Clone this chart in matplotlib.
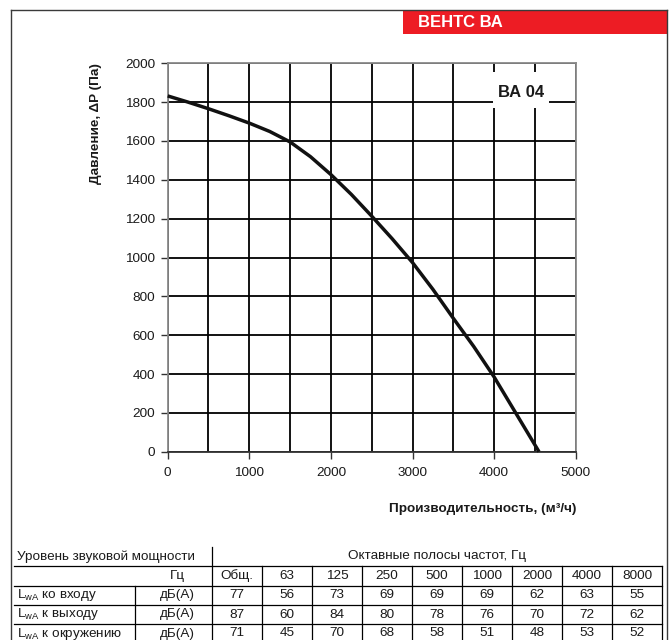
import matplotlib
matplotlib.use("Agg")
import matplotlib.pyplot as plt
from matplotlib.patches import Rectangle
from matplotlib.lines import Line2D

plt.rcParams['font.family'] = ['Liberation Sans', 'DejaVu Sans']
plt.rcParams['mathtext.fontset'] = 'custom'
plt.rcParams['mathtext.rm'] = 'Liberation Sans'
plt.rcParams['mathtext.it'] = 'Liberation Sans'
plt.rcParams['mathtext.default'] = 'rm'

# ---- data ----
flow = [0, 250, 500, 750, 1000, 1250, 1500, 1750, 2000, 2250, 2500, 2750,
        3000, 3250, 3500, 3750, 4000, 4250, 4550]
pressure = [1832, 1800, 1766, 1730, 1692, 1649, 1595, 1519, 1427, 1325, 1213, 1097,
            974, 836, 687, 542, 385, 210, 0]

x_ticks = [0, 1000, 2000, 3000, 4000, 5000]
y_ticks = [0, 200, 400, 600, 800, 1000, 1200, 1400, 1600, 1800, 2000]

bands = ['Общ.', '63', '125', '250', '500', '1000', '2000', '4000', '8000']
row_labels = [r'L$_{\mathrm{wA}}$ ко входу', r'L$_{\mathrm{wA}}$ к выходу',
              r'L$_{\mathrm{wA}}$ к окружению']
inlet = [77, 56, 73, 69, 69, 69, 62, 63, 55]
outlet = [87, 60, 84, 80, 78, 76, 70, 72, 62]
surround = [71, 45, 70, 68, 58, 51, 48, 53, 52]
rows = [inlet, outlet, surround]

W, H = 669, 640
fig = plt.figure(figsize=(W / 100, H / 100), dpi=100)

# background layer in pixel coordinates
bg = fig.add_axes([0, 0, 1, 1])
bg.set_xlim(0, W)
bg.set_ylim(H, 0)
bg.axis('off')

frame_c = '#3a3a3a'
bg.add_line(Line2D([10.5, 10.5], [10, H], color=frame_c, lw=1.0))
bg.add_line(Line2D([10.5, 667], [10, 10], color=frame_c, lw=1.0))
bg.add_line(Line2D([667, 667], [10, H], color=frame_c, lw=1.0))
bg.add_patch(Rectangle((403, 10), 264, 23.7, color='#ED1C24', lw=0))
bg.text(418, 22.5, 'ВЕНТС ВА', color='white', fontsize=12, fontweight='bold',
        ha='left', va='center')

# ---- table ----
tl = 'black'
lw = 0.9
row_lines = [566, 585.7, 605, 624, 643]
for y in row_lines:
    bg.add_line(Line2D([14, 662], [y, y], color=tl, lw=lw))
bg.add_line(Line2D([212, 212], [546.7, H], color=tl, lw=lw))
bg.add_line(Line2D([135, 135], [585.7, H], color=tl, lw=lw))
col_edges = [212 + 50 * i for i in range(len(bands) + 1)]
for x in col_edges[1:]:
    bg.add_line(Line2D([x, x], [566, H], color=tl, lw=lw))

fs_t = 9.7
tc = '#1a1a1a'
bg.text(17, 556.5, 'Уровень звуковой мощности', fontsize=fs_t, color=tc, ha='left', va='center')
bg.text((212 + 662) / 2, 556.5, 'Октавные полосы частот, Гц', fontsize=fs_t, color=tc,
        ha='center', va='center')
bg.text(177, 576, 'Гц', fontsize=fs_t, color=tc, ha='center', va='center')
for i, b in enumerate(bands):
    bg.text((col_edges[i] + col_edges[i + 1]) / 2, 576, b, fontsize=fs_t, color=tc,
            ha='center', va='center')
row_centers = [595.3, 614.5, 633.5]
for r, (lab, vals) in enumerate(zip(row_labels, rows)):
    yc = row_centers[r]
    bg.text(17, yc, lab, fontsize=fs_t, color=tc, ha='left', va='center')
    bg.text(177, yc, 'дБ(А)', fontsize=fs_t, color=tc, ha='center', va='center')
    for i, v in enumerate(vals):
        bg.text((col_edges[i] + col_edges[i + 1]) / 2, yc, str(v), fontsize=fs_t, color=tc,
                ha='center', va='center')

# ---- chart ----
x0, x1, y0, y1 = 167.7, 575.7, 63.3, 451.7
ax = fig.add_axes([x0 / W, 1 - y1 / H, (x1 - x0) / W, (y1 - y0) / H])
ax.set_xlim(0, 5000)
ax.set_ylim(0, 2000)
ax.set_xticks(x_ticks)
ax.set_yticks(y_ticks)
ax.set_xticks([500, 1500, 2500, 3500, 4500], minor=True)
ax.grid(True, which='both', color='black', lw=1.3)
ax.tick_params(axis='both', which='major', labelsize=9.7, colors='#333333',
               labelcolor='#1a1a1a', length=5, width=1.0)
ax.tick_params(axis='x', which='major', pad=6)
ax.tick_params(axis='y', which='major', pad=4)
ax.tick_params(axis='x', which='minor', length=0)
for s in ['top', 'right', 'left']:
    ax.spines[s].set_color('#8a8a8a')
    ax.spines[s].set_linewidth(1.3)
ax.spines['bottom'].set_color('#333333')
ax.spines['bottom'].set_linewidth(1.3)

ax.add_patch(Rectangle((3985, 1770), 690, 185, facecolor='white', edgecolor='none', zorder=2))
ax.text(4335, 1848, 'ВА 04', fontsize=12, fontweight='bold', color='#1a1a1a',
        ha='center', va='center', zorder=4)

ax.plot(flow, pressure, color='#111111', lw=2.5, solid_capstyle='butt',
        solid_joinstyle='round', zorder=3, clip_on=False)

fig.text(96 / W, 1 - 63 / H, 'Давление, ΔP (Па)', rotation=90, fontsize=9.7,
         fontweight='bold', color='#1a1a1a', ha='center', va='top')
fig.text(576 / W, 1 - 509 / H, 'Производительность, (м³/ч)', fontsize=9.7,
         fontweight='bold', color='#1a1a1a', ha='right', va='center')

fig.savefig('out.png', dpi=100)
